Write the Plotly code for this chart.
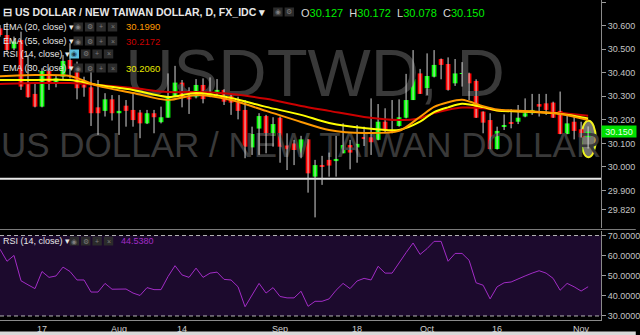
import plotly.graph_objects as go
import pandas as pd

# ---------------- data ----------------
dates = [d.strftime("%Y-%m-%d") for d in pd.bdate_range("2017-07-07", "2017-11-02")]

opens = [30.588, 30.560, 30.503, 30.539, 30.355, 30.310, 30.256, 30.407, 30.358, 30.383,
         30.454, 30.416, 30.348, 30.338, 30.253, 30.238, 30.287, 30.228, 30.260, 30.242,
         30.231, 30.185, 30.228, 30.190, 30.209, 30.298, 30.358, 30.296, 30.296, 30.348,
         30.301, 30.313, 30.327, 30.301, 30.274, 30.242, 30.083, 30.163, 30.216, 30.132,
         30.209, 30.091, 30.100, 30.055, 30.117, 29.959, 30.008, 30.030, 30.025, 30.058,
         30.093, 30.083, 30.126, 30.126, 30.115, 30.192, 30.157, 30.174, 30.209, 30.284,
         30.397, 30.334, 30.383, 30.458, 30.437, 30.355, 30.395, 30.397, 30.365, 30.235,
         30.199, 30.076, 30.171, 30.191, 30.192, 30.214, 30.228, 30.267, 30.270, 30.273,
         30.238, 30.140, 30.192, 30.160, 30.127]
highs = [30.602, 30.612, 30.553, 30.574, 30.475, 30.355, 30.419, 30.419, 30.390, 30.475,
         30.525, 30.447, 30.383, 30.433, 30.369, 30.313, 30.305, 30.305, 30.284, 30.313,
         30.242, 30.242, 30.242, 30.256, 30.397, 30.429, 30.369, 30.338, 30.373, 30.376,
         30.380, 30.373, 30.330, 30.310, 30.298, 30.284, 30.171, 30.228, 30.221, 30.211,
         30.214, 30.143, 30.115, 30.132, 30.118, 30.030, 30.047, 30.061, 30.132, 30.185,
         30.115, 30.178, 30.171, 30.291, 30.267, 30.249, 30.284, 30.287, 30.395, 30.496,
         30.416, 30.482, 30.496, 30.460, 30.465, 30.458, 30.445, 30.400, 30.372, 30.236,
         30.228, 30.171, 30.223, 30.245, 30.263, 30.291, 30.310, 30.310, 30.310, 30.277,
         30.320, 30.221, 30.214, 30.192, 30.172]
lows = [30.553, 30.489, 30.496, 30.327, 30.294, 30.253, 30.253, 30.327, 30.338, 30.369,
        30.376, 30.287, 30.298, 30.174, 30.136, 30.214, 30.197, 30.136, 30.171, 30.171,
        30.122, 30.182, 30.143, 30.185, 30.209, 30.296, 30.253, 30.225, 30.291, 30.270,
        30.296, 30.305, 30.263, 30.221, 30.202, 30.037, 30.051, 30.051, 30.058, 30.086,
        30.018, 29.987, 30.008, 30.037, 29.891, 29.786, 29.924, 29.959, 29.959, 30.058,
        29.990, 30.018, 30.089, 30.051, 30.113, 30.143, 30.143, 30.171, 30.206, 30.284,
        30.310, 30.305, 30.380, 30.372, 30.324, 30.344, 30.341, 30.284, 30.208, 30.143,
        30.075, 30.074, 30.157, 30.164, 30.182, 30.211, 30.221, 30.214, 30.221, 30.208,
        30.139, 30.139, 30.117, 30.125, 30.078]
closes = [30.560, 30.496, 30.532, 30.341, 30.296, 30.256, 30.407, 30.355, 30.376, 30.450,
          30.416, 30.334, 30.337, 30.228, 30.228, 30.287, 30.228, 30.238, 30.238, 30.199,
          30.185, 30.228, 30.211, 30.211, 30.298, 30.358, 30.294, 30.287, 30.348, 30.288,
          30.315, 30.327, 30.277, 30.273, 30.238, 30.086, 30.140, 30.216, 30.132, 30.182,
          30.086, 30.075, 30.072, 30.117, 29.973, 30.008, 30.001, 30.006, 30.034, 30.093,
          30.061, 30.098, 30.120, 30.105, 30.192, 30.154, 30.150, 30.211, 30.284, 30.373,
          30.310, 30.386, 30.433, 30.433, 30.327, 30.397, 30.397, 30.355, 30.209, 30.188,
          30.076, 30.153, 30.178, 30.184, 30.209, 30.228, 30.242, 30.256, 30.242, 30.209,
          30.140, 30.185, 30.153, 30.126, 30.150]

ema_idx = [0, 5, 10, 14, 19, 24, 28, 33, 38, 43, 47, 52, 57, 60, 62, 64, 66, 69, 71, 76, 80, 84]
ema20 = [30.385, 30.390, 30.386, 30.344, 30.314, 30.284, 30.305, 30.284, 30.238, 30.191, 30.157,
         30.144, 30.153, 30.213, 30.255, 30.275, 30.285, 30.258, 30.244, 30.236, 30.225, 30.1990]
ema30 = [30.369, 30.369, 30.369, 30.348, 30.327, 30.297, 30.314, 30.293, 30.255, 30.221, 30.187,
         30.165, 30.157, 30.192, 30.233, 30.253, 30.268, 30.254, 30.240, 30.234, 30.226, 30.2060]
ema55 = [30.352, 30.356, 30.356, 30.348, 30.335, 30.318, 30.318, 30.310, 30.289, 30.259, 30.238,
         30.212, 30.199, 30.207, 30.229, 30.243, 30.252, 30.249, 30.240, 30.233, 30.229, 30.2172]

rsi = [63.2, 57.2, 60.1, 47.5, 45.5, 43.6, 52.1, 49.2, 49.9, 54.3,
       52.1, 47.9, 47.9, 41.9, 41.9, 46.2, 43.3, 43.4, 43.4, 41.4,
       40.2, 44.1, 43.1, 43.1, 49.6, 55.0, 50.4, 49.2, 53.8, 49.2,
       51.3, 51.8, 48.2, 47.9, 44.5, 34.6, 40.2, 46.2, 41.4, 44.1,
       39.7, 39.0, 39.0, 42.3, 34.8, 37.3, 37.3, 38.5, 42.8, 46.2,
       43.6, 47.4, 48.7, 47.9, 54.7, 51.3, 51.3, 56.7, 61.5, 66.3,
       60.6, 63.5, 67.1, 67.1, 57.2, 61.1, 61.1, 57.7, 46.5, 45.3,
       38.5, 44.5, 46.5, 46.9, 48.2, 49.9, 51.3, 52.5, 51.3, 48.7,
       42.8, 46.2, 44.5, 42.4, 44.538]

tick_dates = ["2017-07-17", "2017-08-01", "2017-08-14", "2017-09-01",
              "2017-09-18", "2017-10-02", "2017-10-16", "2017-11-01"]
tick_text = ["17", "Aug", "14", "Sep", "18", "Oct", "16", "Nov"]
price_ticks = [30.7, 30.6, 30.5, 30.4, 30.3, 30.2, 30.1, 30.0, 29.9, 29.82]
rsi_ticks = [70, 60, 50, 40, 30]
support_level = 29.95

# ---------------- helpers ----------------
PW, PH = 605.0, 320.0
FONT = "Liberation Sans"


def px(x):
    return x / PW


def py(y):
    return (PH - y) / PH


GREEN, RED = "#00ff00", "#ff0000"
C20, C30, C55 = "#ff9900", "#ffff00", "#cc0000"
PURPLE = "#a22cc6"

fig = go.Figure()

# watermark (below candles)
fig.add_trace(go.Scatter(
    x=[dates[45], dates[43]], y=[30.372, 30.079], mode="text",
    text=["USDTWD, D", "US DOLLAR / NEW TAIWAN DOLLAR"],
    textfont=dict(size=[67, 35], color="#393939", family=FONT),
    hoverinfo="skip", showlegend=False))

# wicks
wx, wy = [], []
for d, lo, hi in zip(dates, lows, highs):
    wx += [d, d, None]
    wy += [lo, hi, None]
fig.add_trace(go.Scatter(x=wx, y=wy, mode="lines",
                         line=dict(color="#d4d4d4", width=1),
                         hoverinfo="skip", showlegend=False))

# bodies
body_base = [min(o, c) for o, c in zip(opens, closes)]
body_h = [max(abs(c - o), 0.003) for o, c in zip(opens, closes)]
body_col = [GREEN if c >= o else RED for o, c in zip(opens, closes)]
fig.add_trace(go.Bar(x=dates, y=body_h, base=body_base, width=0.68,
                     marker=dict(color=body_col, line=dict(width=0)),
                     hoverinfo="skip", showlegend=False))

# EMAs
ema_x = [dates[i] for i in ema_idx]
for vals, col in [(ema55, C55), (ema30, C30), (ema20, C20)]:
    fig.add_trace(go.Scatter(x=ema_x, y=vals, mode="lines",
                             line=dict(color=col, width=2, shape="spline", smoothing=0.8),
                             hoverinfo="skip", showlegend=False))

# RSI
fig.add_trace(go.Scatter(x=dates, y=rsi, yaxis="y2", mode="lines",
                         line=dict(color=PURPLE, width=1),
                         hoverinfo="skip", showlegend=False))

shapes = []
# RSI band
shapes.append(dict(type="rect", xref="paper", yref="y2", x0=0, x1=1, y0=30, y1=70,
                   fillcolor="#1c0a2d", line=dict(width=0), layer="below"))
for lvl in (70, 30):
    shapes.append(dict(type="line", xref="paper", yref="y2", x0=0, x1=1, y0=lvl, y1=lvl,
                       line=dict(color="#b4b4b4", width=1, dash="4px,3px"), layer="below"))
# support line
shapes.append(dict(type="line", xref="paper", yref="y", x0=0, x1=1,
                   y0=support_level, y1=support_level,
                   line=dict(color="#e8e8e8", width=2), layer="below"))
# pane separator
shapes.append(dict(type="line", xref="paper", yref="paper", x0=0, x1=640 / PW,
                   y0=py(229.5), y1=py(229.5), line=dict(color="#7a7a7a", width=1)))
# highlight ellipse around last candle
shapes.append(dict(type="circle", xref="x", yref="y", x0=83.0, x1=85.1, y0=30.041, y1=30.196,
                   fillcolor="rgba(180,180,170,0.65)", line=dict(color="#f0f020", width=2),
                   layer="below"))
# bottom light strip
shapes.append(dict(type="rect", xref="paper", yref="paper", x0=0, x1=640 / PW,
                   y0=py(336), y1=py(331.5), fillcolor="#d9d9d9", line=dict(width=0)))

annotations = []


def txt(x, y, s, size=9, color="#e0e0e0", anchor="left", bold=False, **kw):
    if bold:
        s = "<b>" + s + "</b>"
    annotations.append(dict(xref="paper", yref="paper", x=px(x), y=py(y), text=s,
                            showarrow=False, xanchor=anchor, yanchor="middle",
                            font=dict(size=size, color=color, family=FONT), **kw))


def icon_row(x0, yc, first_fill="#2b2b2b", n=4):
    glyphs = ["◉", "⚙", "+", "×"][:n]
    for k, gl in enumerate(glyphs):
        xl = x0 + k * 11.5
        fill = first_fill if k == 0 else "#2b2b2b"
        shapes.append(dict(type="rect", xref="paper", yref="paper",
                           x0=px(xl), x1=px(xl + 9.5), y0=py(yc + 4.5), y1=py(yc - 4.5),
                           fillcolor=fill, line=dict(width=0)))
        gcol = "#1a3a4a" if (k == 0 and first_fill != "#2b2b2b") else "#7d7d7d"
        txt(xl + 4.75, yc, gl, size=7, color=gcol, anchor="center")


# header
txt(1, 12, "⊟ US DOLLAR / NEW TAIWAN DOLLAR, D, FX_IDC ▾", size=10.5, color="#e8e8e8", bold=True)
icon_row(275, 12, n=2)
NB = "\u00a0"
g = lambda v: "<span style='color:#00ee00'>%.3f</span>" % v
ohlc = ("O" + g(opens[-1]) + NB * 2 + "H" + g(highs[-1]) + NB * 2 + "L" + g(lows[-1])
        + NB * 2 + "C" + g(closes[-1]))
txt(301, 13, ohlc, size=11, color="#d8d8d8")

# indicator legend rows
rows = [("EMA (20, close) ▾", 27, "%.4f" % ema20[-1], C20),
        ("EMA (55, close) ▾", 41, "%.4f" % ema55[-1], "#c80000"),
        ("RSI (14, close) ▾", 54, None, None),
        ("EMA (30, close) ▾", 68, "%.4f" % ema30[-1], "#e6e600")]
for label, yc, val, col in rows:
    txt(1, yc, label, size=9, color="#e6e6e6")
    if val is None:
        icon_row(70, yc, first_fill="#5bc0de")
    else:
        icon_row(74, yc)
        txt(125, yc, val, size=9.5, color=col)

# RSI pane legend
txt(1, 241, "RSI (14, close) ▾", size=9, color="#e6e6e6")
icon_row(70, 241)
txt(120, 241, "%.4f" % rsi[-1], size=9, color=PURPLE)

# last price label
annotations.append(dict(xref="paper", yref="y", x=1.0, y=closes[-1], text="%.3f" % closes[-1],
                        showarrow=False, xanchor="left", yanchor="middle",
                        bgcolor="#00e000", width=34, height=11, borderpad=0, align="center",
                        font=dict(size=9, color="#e8ffe8", family=FONT)))

axis_font = dict(size=9, color="#c4c4c4", family=FONT)
fig.update_layout(
    width=640, height=335,
    margin=dict(l=0, r=35, t=0, b=15),
    paper_bgcolor="#000000", plot_bgcolor="#000000",
    showlegend=False, barmode="overlay",
    xaxis=dict(type="category", categoryorder="array", categoryarray=dates,
               range=[0, 85.84], anchor="y2",
               tickmode="array", tickvals=tick_dates, ticktext=tick_text,
               showgrid=False, zeroline=False, showline=True, linecolor="#8a8a8a",
               ticks="", tickfont=dict(size=9, color="#d0d0d0", family=FONT)),
    yaxis=dict(domain=[py(228), 1], range=[29.741, 30.7085], side="right", anchor="x",
               tickmode="array", tickvals=price_ticks, tickformat=".3f",
               ticks="outside", ticklen=4, tickcolor="#9a9a9a",
               showline=True, linecolor="#8a8a8a", showgrid=False, zeroline=False,
               tickfont=axis_font),
    yaxis2=dict(domain=[0, py(230.5)], range=[28.0, 72.5], side="right", anchor="x",
                tickmode="array", tickvals=rsi_ticks, tickformat=".4f",
                ticks="outside", ticklen=4, tickcolor="#9a9a9a",
                showline=True, linecolor="#8a8a8a", showgrid=False, zeroline=False,
                tickfont=axis_font),
    shapes=shapes,
    annotations=annotations,
)

fig.write_html("out.html")
